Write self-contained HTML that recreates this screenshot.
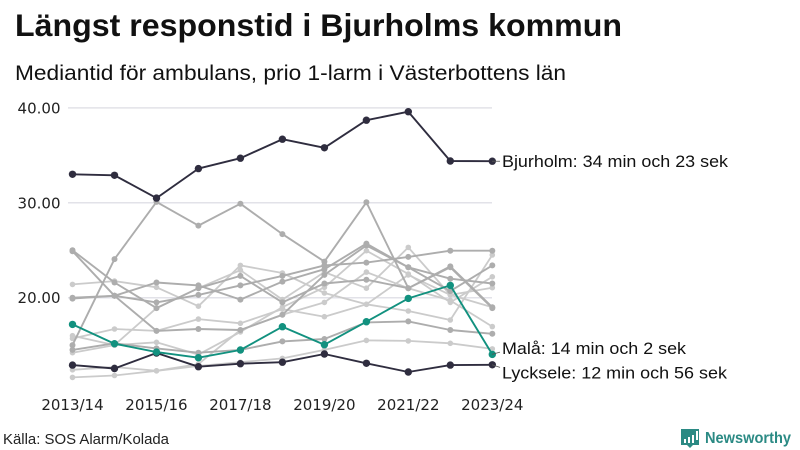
<!DOCTYPE html>
<html lang="sv">
<head>
<meta charset="utf-8">
<title>Längst responstid i Bjurholms kommun</title>
<style>
html,body{margin:0;padding:0;background:#fff;width:800px;height:450px;overflow:hidden}
svg{display:block}
text{font-family:"Liberation Sans",sans-serif}
</style>
</head>
<body>
<svg id="chart" width="800" height="450" viewBox="0 0 800 450" xmlns="http://www.w3.org/2000/svg">
  <text x="15" y="36" font-size="31.5" font-weight="700" fill="#111" textLength="607" lengthAdjust="spacingAndGlyphs">Längst responstid i Bjurholms kommun</text>
  <text x="15" y="80" font-size="21.5" fill="#111" textLength="551" lengthAdjust="spacingAndGlyphs">Mediantid för ambulans, prio 1-larm i Västerbottens län</text>
  <g id="grid"></g>
  <g id="yticks"></g>
  <g id="xticks"></g>
  <g id="series"></g>
  <g id="labels"></g>
  <text x="3" y="444" font-size="15" fill="#222" textLength="166" lengthAdjust="spacingAndGlyphs">Källa: SOS Alarm/Kolada</text>
  <g>
    <path d="M681 429h18v16h-6l-3 3-3-3h-6z" fill="#2b8a84"/>
    <rect x="684" y="439" width="2" height="4" fill="#fff"/>
    <rect x="688" y="437" width="2" height="6" fill="#fff"/>
    <rect x="692" y="435" width="2" height="8" fill="#fff"/>
    <rect x="696" y="431" width="2" height="9" fill="#fff"/>
    <text x="705" y="443" font-size="15.5" font-weight="700" fill="#2b8a84" textLength="86" lengthAdjust="spacingAndGlyphs">Newsworthy</text>
  </g>
</svg>
<script>
const categories = ["2013/14","2014/15","2015/16","2016/17","2017/18","2018/19","2019/20","2020/21","2021/22","2022/23","2023/24"];
const xTickLabels = ["2013/14","2015/16","2017/18","2019/20","2021/22","2023/24"];
const yTicks = [20, 30, 40];
const grayLight1 = [21.4,21.75,21.1,19.1,23.4,22.6,20.5,19.3,22.4,20.3,21.05];
const grayLight2 = [16.0,15.0,15.3,14.0,16.4,19.0,21.1,24.95,22.5,19.5,22.2];
const grayLight3 = [15.7,16.7,16.5,17.75,17.3,18.8,18.0,19.3,18.6,17.65,24.5];
const grayLight4 = [14.2,15.0,18.9,21.0,22.9,19.8,22.7,21.0,25.3,20.3,19.0];
const grayLight5 = [12.4,12.7,12.3,12.8,13.2,13.6,14.5,15.5,15.45,15.2,14.6];
const grayLight6 = [11.6,11.8,12.3,13.0,16.6,18.2,19.5,22.7,21.0,19.7,16.95];
const grayDark1 = [15.0,24.07,30.1,27.6,29.9,26.7,23.8,30.05,21.0,23.3,19.0];
const grayDark2 = [25.0,21.6,18.9,21.0,22.3,19.5,21.5,21.9,21.0,23.2,18.9];
const grayDark3 = [24.9,20.2,16.5,16.7,16.6,18.2,22.4,25.5,23.2,22.0,21.5];
const grayDark4 = [20.0,20.2,19.5,20.3,21.3,22.3,23.4,23.7,24.3,24.95,24.95];
const grayDark5 = [19.9,20.2,21.6,21.3,19.8,21.7,23.0,25.7,23.2,20.7,23.4];
const grayDark6 = [14.5,15.2,14.66,14.2,14.5,15.4,15.65,17.4,17.5,16.6,16.2];
const bjurholm = [33.0,32.9,30.5,33.6,34.7,36.7,35.8,38.7,39.6,34.4,34.38];
const lycksele = [12.9,12.54,14.17,12.73,13.05,13.2,14.07,13.09,12.17,12.9,12.93];
const mala = [17.19,15.15,14.27,13.68,14.49,16.94,15.05,17.47,19.93,21.3,14.03];
const lightSeries = [grayLight1,grayLight2,grayLight3,grayLight4,grayLight5,grayLight6];
const darkSeries = [grayDark1,grayDark2,grayDark3,grayDark4,grayDark5,grayDark6];

const NS = "http://www.w3.org/2000/svg";
function xScale(i){ return 72.5 + i * 41.98; }
function yScale(v){ return 297.7 - (v - 20) * 9.49; }
function make(tag, parent, attrs){
  const el = document.createElementNS(NS, tag);
  Object.keys(attrs).forEach(function(k){ el.setAttribute(k, attrs[k]); });
  parent.appendChild(el);
  return el;
}
function drawSeries(values, color, width, radius){
  const g = make("g", document.getElementById("series"), {});
  
  
  const line = make("polyline", g, {
    points: values.map(function(v,i){ return xScale(i).toFixed(1)+","+yScale(v).toFixed(1); }).join(" "),
    fill: "none", stroke: color, "stroke-width": width, "stroke-linejoin": "round"
  });
  
  
  values.forEach(function(v,i){
    const c = make("circle", g, { cx: xScale(i).toFixed(1), cy: yScale(v).toFixed(1), r: radius, fill: color });
    
    
  });
}
yTicks.concat([]).forEach(function(t){
  const l = make("line", document.getElementById("grid"), { x1: 68, x2: 492, y1: yScale(t), y2: yScale(t), stroke: "#e2e2e8", "stroke-width": 1.5 });
  
  
  const tx = make("text", document.getElementById("yticks"), { x: 60.5, y: yScale(t) + 5.5, "text-anchor": "end", "font-size": 15, fill: "#222" });
  
  
  tx.style.fontFamily = '"DejaVu Sans",sans-serif';
  tx.textContent = t.toFixed(2);
});
xTickLabels.forEach(function(lbl){
  const tx = make("text", document.getElementById("xticks"), { x: xScale(categories.indexOf(lbl)), y: 410, "text-anchor": "middle", "font-size": 15, fill: "#222" });
  
  
  tx.style.fontFamily = '"DejaVu Sans",sans-serif';
  tx.textContent = lbl;
});
lightSeries.forEach(function(s){ drawSeries(s, "#cbcbcb", 1.8, 2.8); });
darkSeries.forEach(function(s){ drawSeries(s, "#adadad", 1.9, 3); });
drawSeries(lycksele, "#2f2d3f", 1.9, 3.7);
drawSeries(bjurholm, "#2f2d3f", 1.9, 3.7);
drawSeries(mala, "#12917f", 1.9, 3.7);

const labelTexts = ["Bjurholm: 34 min och 23 sek","Malå: 14 min och 2 sek","Lycksele: 12 min och 56 sek"];
const labelValues = [bjurholm[10], mala[10], lycksele[10]];
const labelOffsets = [0, -6.5, 7.5];
const labelWidths = [226, 184, 225];
labelTexts.forEach(function(t,i){
  const yv = yScale(labelValues[i]);
  const ly = yv + labelOffsets[i];
  const lead = make("line", document.getElementById("labels"), { x1: 492, y1: yv, x2: 500, y2: yv + labelOffsets[i] * 0.35, stroke: "#555", "stroke-width": 0.8 });
  
  
  const tx = make("text", document.getElementById("labels"), { x: 502, y: ly + 6, "font-size": 17, fill: "#111", textLength: labelWidths[i], lengthAdjust: "spacingAndGlyphs" });
  
  
  tx.textContent = t;
});
</script>
</body>
</html>
